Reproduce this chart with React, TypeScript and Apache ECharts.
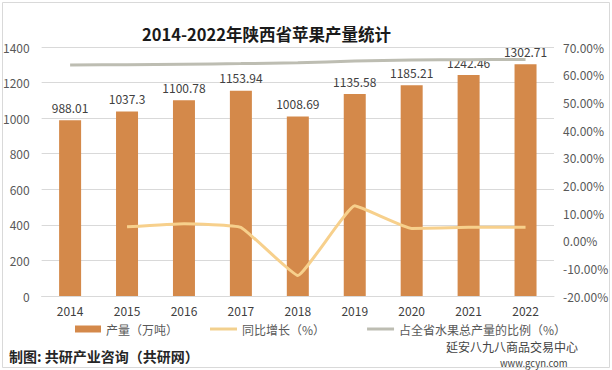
import React, { useEffect, useRef } from "react";
import * as echarts from "echarts";

const years = ["2014", "2015", "2016", "2017", "2018", "2019", "2020", "2021", "2022"];
const output = [988.01, 1037.3, 1100.78, 1153.94, 1008.69, 1135.58, 1185.21, 1242.46, 1302.71];
const growth = [null, 4.99, 6.12, 4.83, -12.59, 12.58, 4.37, 4.83, 4.85];
const share = [63.5, 63.6, 63.8, 64.0, 64.3, 64.9, 65.3, 65.4, 65.5];
const seriesNames = ["产量（万吨）", "同比增长（%）", "占全省水果总产量的比例（%）"];

const FONT = "'Noto Sans CJK SC', 'Noto Sans', sans-serif";

export default function App() {
  const ref = useRef<HTMLDivElement>(null);
  useEffect(() => {
    if (!ref.current) return;
    const chart = echarts.init(ref.current, null, { renderer: "svg" });
    chart.setOption({
      animation: false,
      backgroundColor: "#ffffff",
      textStyle: { fontFamily: FONT },
      title: {
        text: "2014-2022年陕西省苹果产量统计",
        left: 137,
        top: 21,
        textStyle: { fontSize: 16.5, fontWeight: "bold", color: "#1a1a1a", fontFamily: FONT },
      },
      grid: { left: 40, right: 58, top: 47, bottom: 74 },
      legend: [
        {
          left: 70,
          top: 318,
          itemWidth: 26,
          itemHeight: 7,
          icon: "rect",
          data: [seriesNames[0]],
          textStyle: { fontSize: 12, color: "#595959", fontFamily: FONT },
        },
        {
          left: 205,
          top: 318,
          itemWidth: 27,
          itemHeight: 3,
          itemGap: 42,
          icon: "rect",
          data: [seriesNames[1], seriesNames[2]],
          textStyle: { fontSize: 12, color: "#595959", fontFamily: FONT },
        },
      ],
      xAxis: {
        type: "category",
        data: years,
        axisLine: { show: true, lineStyle: { color: "#d9d9d9" } },
        axisTick: { show: false },
        axisLabel: { fontSize: 12, color: "#404040", margin: 8 },
      },
      yAxis: [
        {
          type: "value",
          min: 0,
          max: 1400,
          interval: 200,
          axisLine: { show: false },
          axisTick: { show: false },
          axisLabel: { fontSize: 12, color: "#595959", margin: 12, formatter: (v: number) => String(v) },
          splitLine: { lineStyle: { color: "#d9d9d9" } },
        },
        {
          type: "value",
          min: -20,
          max: 70,
          interval: 10,
          axisLine: { show: false },
          axisTick: { show: false },
          axisLabel: {
            fontSize: 12,
            color: "#595959",
            margin: 9,
            formatter: (v: number) => v.toFixed(2) + "%",
          },
          splitLine: { show: false },
        },
      ],
      series: [
        {
          name: seriesNames[0],
          type: "bar",
          data: output,
          barWidth: 22,
          itemStyle: { color: "#D4894A" },
          label: {
            show: true,
            position: "top",
            distance: 7,
            fontSize: 12,
            color: "#404040",
            formatter: (p: any) => String(p.value),
          },
        },
        {
          name: seriesNames[1],
          type: "line",
          yAxisIndex: 1,
          data: growth,
          symbol: "none",
          smooth: 0.1,
          lineStyle: { color: "#F7D08C", width: 3 },
          itemStyle: { color: "#F2D08E" },
        },
        {
          name: seriesNames[2],
          type: "line",
          yAxisIndex: 1,
          data: share,
          symbol: "none",
          smooth: 0.3,
          lineStyle: { color: "#BDBDB2", width: 3 },
          itemStyle: { color: "#BDBDB2" },
        },
      ],
      graphic: [
        {
          type: "rect",
          shape: { x: 2.5, y: 2.5, width: 607, height: 365 },
          style: { fill: "none", stroke: "#d9d9d9", lineWidth: 1 },
          silent: true,
        },
        {
          type: "text",
          left: 9,
          top: 349,
          style: {
            text: "制图: 共研产业咨询（共研网）",
            fontSize: 14,
            fontWeight: "bold",
            fill: "#262626",
            fontFamily: FONT,
          },
        },
        {
          type: "text",
          left: 446,
          top: 340,
          style: {
            text: "延安八九八商品交易中心",
            fontSize: 12,
            fill: "#444444",
            fontFamily: FONT,
          },
        },
        {
          type: "text",
          left: 500,
          top: 358,
          style: {
            text: "www.gcyn.com",
            fontSize: 9.5,
            fill: "#444444",
            fontFamily: FONT,
          },
        },
      ],
    });
    return () => chart.dispose();
  }, []);
  return (
    <div
      ref={ref}
      style={{ position: "absolute", left: 0, top: 0, width: 612, height: 370, background: "#fff" }}
    />
  );
}
